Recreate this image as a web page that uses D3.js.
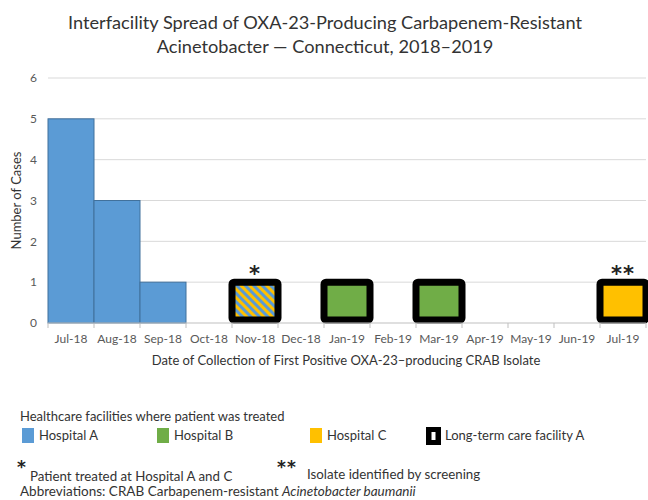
<!DOCTYPE html>
<html>
<head>
<meta charset="utf-8">
<script src="https://cdn.jsdelivr.net/npm/d3@7"></script>
<style>
  html, body { margin: 0; padding: 0; background: #fff; }
  svg { display: block; font-family: Lato, "Open Sans", sans-serif; }
</style>
</head>
<body>
<svg id="chart" width="648" height="500"></svg>
<script>
// ---- data ----
const months = ["Jul-18","Aug-18","Sep-18","Oct-18","Nov-18","Dec-18","Jan-19","Feb-19","Mar-19","Apr-19","May-19","Jun-19","Jul-19"];
const hospitalA  = [5,3,1,0,0,0,0,0,0,0,0,0,0];
const hospitalAC = [0,0,0,0,1,0,0,0,0,0,0,0,0];
const hospitalB  = [0,0,0,0,0,0,1,0,1,0,0,0,0];
const hospitalC  = [0,0,0,0,0,0,0,0,0,0,0,0,1];
const ltcfA      = [0,0,0,0,1,0,1,0,1,0,0,0,1];
const notes      = ["","","","","*","","","","","","","","**"];
const yTicks     = [0,1,2,3,4,5,6];
const legendItems = ["Hospital A","Hospital B","Hospital C","Long-term care facility A"];

const colA = "#5b9bd5", colB = "#70ad47", colC = "#ffc000";
const txt = "#333333";
const starFont = "'DejaVu Sans', sans-serif";

const svg = d3.select("#chart");
const margin = {top: 78, right: 2, bottom: 177, left: 48};
const W = 648, H = 500;

const x = d3.scaleBand().domain(months).range([margin.left, W - margin.right]).padding(0);
const y = d3.scaleLinear().domain([0, 6]).range([H - margin.bottom, margin.top]);

// pattern for Hospital A + C
const defs = svg.append("defs");
const pat = defs.append("pattern").attr("id","hatchAC")
  .attr("patternUnits","userSpaceOnUse").attr("width",6).attr("height",6)
  .attr("patternTransform","rotate(-45)");
pat.append("rect").attr("width",6).attr("height",6).attr("fill",colC);
pat.append("rect").attr("width",3).attr("height",6).attr("fill",colA);

// title
const title = svg.append("text").attr("text-anchor","middle").attr("fill","#333")
  .attr("font-size",18.2);
title.append("tspan").attr("x",325).attr("y",29).text("Interfacility Spread of OXA-23-Producing Carbapenem-Resistant");
title.append("tspan").attr("x",325).attr("y",53).text("Acinetobacter \u2014 Connecticut, 2018\u20132019");

// gridlines
svg.append("g").selectAll("line").data(yTicks.filter(d => d > 0)).join("line")
  .attr("x1", x.range()[0]).attr("x2", x.range()[1])
  .attr("y1", d => y(d)).attr("y2", d => y(d))
  .attr("stroke","#d9d9d9").attr("stroke-width",1);

// y tick labels
svg.append("g").selectAll("text").data(yTicks).join("text")
  .attr("x", margin.left - 11).attr("y", d => y(d)).attr("dy","0.35em")
  .attr("text-anchor","end").attr("font-size",12).attr("fill","#595959")
  .text(d => d);

// y title
svg.append("text").attr("transform",`translate(21,${(y(0)+y(6))/2}) rotate(-90)`)
  .attr("text-anchor","middle").attr("font-size",13).attr("fill",txt)
  .text("Number of Cases");

// bars
function drawBars(values, fill, stroke) {
  svg.append("g").selectAll("rect").data(months.map((m,i) => ({m, v: values[i]})).filter(d => d.v > 0))
    .join("rect")
    .attr("x", d => x(d.m)).attr("width", x.bandwidth())
    .attr("y", d => y(d.v)).attr("height", d => y(0) - y(d.v))
    .attr("fill", fill).attr("stroke", stroke).attr("stroke-width", stroke === "none" ? 0 : 1);
}
drawBars(hospitalA, colA, "#41719c");
drawBars(hospitalAC, "url(#hatchAC)", "none");
drawBars(hospitalB, colB, "none");
drawBars(hospitalC, colC, "none");

// LTCF borders
svg.append("g").selectAll("rect").data(months.map((m,i) => ({m, v: ltcfA[i]})).filter(d => d.v > 0))
  .join("rect")
  .attr("x", d => x(d.m)).attr("width", x.bandwidth())
  .attr("y", d => y(d.v)).attr("height", d => y(0) - y(d.v) - 3)
  .attr("rx", 2)
  .attr("fill","none").attr("stroke","#000").attr("stroke-width",7);

// annotations
const totals = months.map((m,i) => hospitalA[i] + hospitalAC[i] + hospitalB[i] + hospitalC[i]);
svg.append("g").selectAll("text").data(months.map((m,i) => ({m, n: notes[i], t: totals[i]})).filter(d => d.n))
  .join("text")
  .attr("x", d => x(d.m) + x.bandwidth()/2).attr("y", d => y(d.t) - 1)
  .attr("text-anchor","middle").attr("font-size",21).attr("font-weight","bold").attr("fill","#222")
  .attr("font-family", starFont).attr("letter-spacing", 1)
  .text(d => d.n);

// x axis
const xAxis = svg.append("g").attr("transform",`translate(0,${y(0)})`);
xAxis.append("line").attr("x1", x.range()[0]).attr("x2", x.range()[1])
  .attr("stroke","#bfbfbf").attr("stroke-width",1);
xAxis.selectAll("line.tk").data(months.concat(["__end"])).join("line").attr("class","tk")
  .attr("x1", (d,i) => x.range()[0] + i * x.step()).attr("x2", (d,i) => x.range()[0] + i * x.step())
  .attr("y1", 0).attr("y2", 5).attr("stroke","#bfbfbf");
xAxis.selectAll("text").data(months).join("text")
  .attr("x", d => x(d) + x.bandwidth()/2).attr("y", 20)
  .attr("text-anchor","middle").attr("font-size",12).attr("fill","#595959")
  .text(d => d);

svg.append("text").attr("x", 346).attr("y", 365).attr("text-anchor","middle")
  .attr("font-size",13).attr("fill",txt)
  .text("Date of Collection of First Positive OXA-23\u2013producing CRAB Isolate");

// legend
svg.append("text").attr("x",20).attr("y",421).attr("font-size",13).attr("fill",txt)
  .text("Healthcare facilities where patient was treated");
const legX = [22, 157, 310, 426];
const legFill = [colA, colB, colC, "#000"];
const lg = svg.append("g").selectAll("g").data(legendItems).join("g")
  .attr("transform", (d,i) => `translate(${legX[i]},428)`);
lg.append("rect").attr("width", (d,i) => i === 3 ? 15 : 12).attr("height", (d,i) => i === 3 ? 18 : 15)
  .attr("y", (d,i) => i === 3 ? -1 : 0)
  .attr("fill", (d,i) => legFill[i]);
lg.filter((d,i) => i === 3).append("rect").attr("x",5.5).attr("y",4).attr("width",4).attr("height",8).attr("fill","#fff");
lg.append("text").attr("x", (d,i) => i === 3 ? 19 : 17).attr("y", 12)
  .attr("font-size",13).attr("fill",txt).text(d => d);

// footnotes
svg.append("text").attr("x",17).attr("y",473).attr("font-size",17).attr("font-weight","bold")
  .attr("font-family",starFont).attr("fill","#222").text("*");
svg.append("text").attr("x",30).attr("y",481).attr("font-size",13.3).attr("fill",txt)
  .text("Patient treated at Hospital A and C");
svg.append("text").attr("x",277).attr("y",473).attr("font-size",17).attr("font-weight","bold")
  .attr("font-family",starFont).attr("fill","#222").attr("letter-spacing",1).text("**");
svg.append("text").attr("x",307).attr("y",479).attr("font-size",13.3).attr("fill",txt)
  .text("Isolate identified by screening");
const ab = svg.append("text").attr("x",20).attr("y",496).attr("font-size",13.5).attr("fill",txt);
ab.append("tspan").text("Abbreviations: CRAB Carbapenem-resistant ");
ab.append("tspan").attr("font-style","italic").text("Acinetobacter baumanii");
</script>
</body>
</html>
